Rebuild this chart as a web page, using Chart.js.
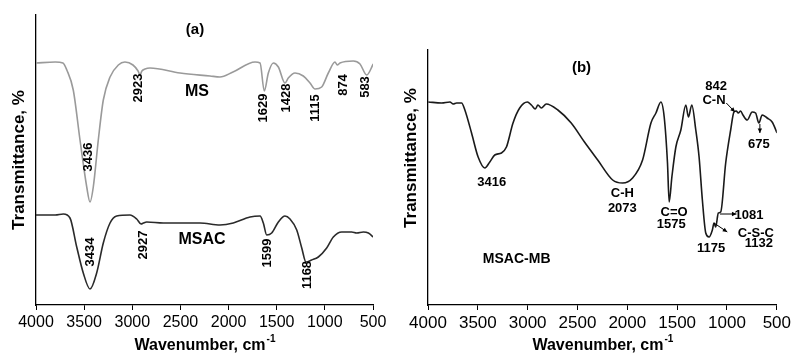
<!DOCTYPE html>
<html>
<head>
<meta charset="utf-8">
<script src="https://cdn.jsdelivr.net/npm/chart.js@4.4.0/dist/chart.umd.min.js"></script>
<style>
    body { margin: 0; background: #fff; }
    #wrap { position: relative; width: 794px; height: 355px; }
    #chartA { position: absolute; left: 0; top: 0; }
    #chartB { position: absolute; left: 395px; top: 0; }
</style>
</head>
<body>
<div id="wrap">
    <canvas id="chartA" width="395" height="355"></canvas>
    <canvas id="chartB" width="399" height="355"></canvas>
</div>
<script>
// Panel (a): MS spectrum (grey)
const msWave = [4000, 3800, 3720, 3680, 3613, 3543, 3473, 3439, 3405, 3353, 3301, 3231, 3145, 3076, 2993, 2940, 2920, 2900, 2868, 2816, 2504, 2193, 2089, 1954, 1725, 1673, 1629, 1587, 1535, 1483, 1414, 1380, 1310, 1224, 1154, 1102, 1033, 964, 895, 871, 843, 705, 635, 565, 497];
const msTrans = [242, 243, 242, 235, 215, 165, 118, 103, 118, 165, 205, 228, 240, 243, 240, 234, 230, 234, 236, 237, 232, 229, 228, 233, 243, 242, 214, 232, 242, 238, 222, 227, 232, 229, 222, 216, 218, 232, 243, 240, 242, 244, 241, 230, 241];

// Panel (a): MSAC spectrum (dark)
const msacWave = [4000, 3800, 3716, 3647, 3577, 3509, 3439, 3370, 3301, 3231, 3162, 3024, 2954, 2909, 2885, 2850, 2678, 2297, 2089, 1951, 1777, 1673, 1639, 1604, 1552, 1483, 1414, 1362, 1292, 1240, 1196, 1137, 1068, 981, 912, 825, 721, 669, 600, 548, 497];
const msacTrans = [90, 90, 91, 87, 58, 32, 16, 32, 62, 82, 89, 90, 86, 81, 82, 83, 82, 82, 80, 82, 88, 89, 82, 70, 72, 83, 89, 86, 75, 57, 43, 45, 48, 57, 68, 73, 73, 72, 73, 72, 68];

// Panel (b): MSAC-MB spectrum
const mbWave = [3997, 3863, 3780, 3747, 3713, 3663, 3630, 3563, 3497, 3430, 3380, 3330, 3263, 3213, 3147, 3080, 3003, 2963, 2923, 2897, 2863, 2813, 2697, 2563, 2430, 2297, 2147, 2047, 1947, 1847, 1763, 1713, 1663, 1630, 1597, 1580, 1553, 1513, 1463, 1413, 1387, 1353, 1313, 1280, 1247, 1213, 1180, 1147, 1130, 1113, 1087, 1063, 1013, 963, 930, 907, 887, 863, 840, 797, 747, 713, 680, 647, 597, 547, 497];
const mbTrans = [203, 202, 203, 201, 202, 202, 195, 172, 148, 137, 143, 150, 152, 158, 182, 197, 203, 200, 196, 200, 197, 201, 195, 182, 163, 145, 125, 122, 127, 145, 182, 192, 203, 188, 142, 103, 128, 158, 175, 200, 188, 200, 175, 148, 105, 72, 68, 75, 82, 78, 92, 93, 142, 175, 193, 194, 192, 194, 190, 185, 193, 192, 182, 190, 187, 183, 172];

// Axis ticks shared by both panels
const waveTicks = [4000, 3500, 3000, 2500, 2000, 1500, 1000, 500];

// Labels for panel (a): text, wavenumber, level, rotated?
const notesA = [
    ['(a)', 2349, 275, false, 15],
    ['MS', 2328, 213, false, 16],
    ['MSAC', 2276, 65, false, 16],
    ['3436', 3460, 148, true, 13],
    ['2923', 2941, 217, true, 13],
    ['1629', 1642, 197, true, 13],
    ['1428', 1403, 207, true, 13],
    ['1115', 1102, 197, true, 13],
    ['874', 812, 220, true, 13],
    ['583', 583, 218, true, 13],
    ['3434', 3439, 53, true, 13],
    ['2927', 2889, 60, true, 13],
    ['1599', 1601, 52, true, 13],
    ['1168', 1185, 30, true, 13]
];

// Labels for panel (b)
const notesB = [
    ['(b)', 2460, 237, false, 15],
    ['842', 1110, 219, false, 13],
    ['C-N', 1130, 205, false, 13],
    ['675', 680, 161, false, 13],
    ['3416', 3360, 123, false, 13],
    ['C-H', 2050, 112, false, 13],
    ['2073', 2050, 97, false, 13],
    ['C=O', 1530, 93, false, 13],
    ['1575', 1560, 81, false, 13],
    ['1175', 1160, 57, false, 13],
    ['1081', 780, 90, false, 13],
    ['C-S-C', 710, 72, false, 13],
    ['1132', 680, 62, false, 13],
    ['MSAC-MB', 3110, 46, false, 14]
];

// Arrows for panel (b): from [wave, level] to [wave, level]
const arrowsB = [
    [[1007, 202], [920, 193]],
    [[670, 181], [670, 172]],
    [[1070, 91], [905, 91]],
    [[1130, 82], [997, 73]]
];

function toPoints(xs, ys) {
    return xs.map((x, i) => ({ x: x, y: ys[i] }));
}

// Draw an arrow between two pixel points
function drawArrow(ctx, x1, y1, x2, y2) {
    const ang = Math.atan2(y2 - y1, x2 - x1);
    ctx.beginPath();
    ctx.moveTo(x1, y1);
    ctx.lineTo(x2, y2);
    ctx.stroke();
    ctx.beginPath();
    ctx.moveTo(x2, y2);
    ctx.lineTo(x2 - 5 * Math.cos(ang - 0.45), y2 - 5 * Math.sin(ang - 0.45));
    ctx.lineTo(x2 - 5 * Math.cos(ang + 0.45), y2 - 5 * Math.sin(ang + 0.45));
    ctx.closePath();
    ctx.fill();
}

// Plugin that writes peak labels, arrows and the axis titles
const notesPlugin = {
    id: 'notes',
    afterDraw(chart, args, opts) {
        const ctx = chart.ctx;
        const xs = chart.scales.x;
        const ys = chart.scales.y;
        const area = chart.chartArea;
        ctx.save();
        ctx.fillStyle = '#000';
        ctx.strokeStyle = '#000';
        ctx.lineWidth = 1;
        ctx.textAlign = 'center';
        ctx.textBaseline = 'middle';

        (opts.items || []).forEach(n => {
            const px = xs.getPixelForValue(n[1]);
            const py = ys.getPixelForValue(n[2]);
            ctx.font = 'bold ' + n[4] + 'px Arial, "Liberation Sans", sans-serif';
            if (n[3]) {
                ctx.save();
                ctx.translate(px, py);
                ctx.rotate(-Math.PI / 2);
                ctx.fillText(n[0], 0, 0);
                ctx.restore();
            } else {
                ctx.fillText(n[0], px, py);
            }
        });

        (opts.arrows || []).forEach(a => {
            drawArrow(ctx,
                xs.getPixelForValue(a[0][0]), ys.getPixelForValue(a[0][1]),
                xs.getPixelForValue(a[1][0]), ys.getPixelForValue(a[1][1]));
        });

        // y axis title
        ctx.save();
        ctx.font = 'bold 17px Arial, "Liberation Sans", sans-serif';
        ctx.translate(area.left - 17, opts.yTitleMid);
        ctx.rotate(-Math.PI / 2);
        ctx.fillText('Transmittance, %', 0, 0);
        ctx.restore();

        // x axis title with superscript
        const main = 'Wavenumber, cm';
        const sup = '-1';
        ctx.font = 'bold 16px Arial, "Liberation Sans", sans-serif';
        const w1 = ctx.measureText(main).width;
        ctx.font = 'bold 10px Arial, "Liberation Sans", sans-serif';
        const w2 = ctx.measureText(sup).width;
        const cx = (area.left + area.right) / 2 - (w1 + w2) / 2;
        const ty = area.bottom + 41;
        ctx.textAlign = 'left';
        ctx.font = 'bold 16px Arial, "Liberation Sans", sans-serif';
        ctx.fillText(main, cx, ty);
        ctx.font = 'bold 10px Arial, "Liberation Sans", sans-serif';
        ctx.fillText(sup, cx + w1 + 1, ty - 7);
        ctx.restore();
    }
};

function makeChart(id, datasets, yMax, yWidth, pad, tickSize, notes, arrows, yTitleMid) {
    return new Chart(document.getElementById(id), {
        type: 'line',
        data: { datasets: datasets },
        options: {
            responsive: false,
            animation: false,
            layout: { padding: pad },
            plugins: {
                legend: { display: false },
                tooltip: { enabled: false },
                notes: { items: notes, arrows: arrows, yTitleMid: yTitleMid }
            },
            elements: { point: { radius: 0 } },
            scales: {
                x: {
                    type: 'linear',
                    reverse: true,
                    min: 500,
                    max: 4000,
                    afterBuildTicks: s => { s.ticks = waveTicks.map(v => ({ value: v })); },
                    afterFit: s => { s.height = 50; },
                    ticks: {
                        color: '#000',
                        maxRotation: 0,
                        padding: 3,
                        font: { family: 'Arial, "Liberation Sans", sans-serif', size: tickSize },
                        callback: v => String(v)
                    },
                    grid: { drawOnChartArea: false, drawTicks: true, tickLength: 5, color: '#000' },
                    border: { color: '#000', width: 1.3 }
                },
                y: {
                    min: 0,
                    max: yMax,
                    afterFit: s => { s.width = yWidth; },
                    ticks: { display: false },
                    grid: { drawOnChartArea: false, drawTicks: false },
                    border: { color: '#000', width: 1.3 }
                }
            }
        },
        plugins: [notesPlugin]
    });
}

const lineStyle = { pointRadius: 0, borderWidth: 1.6, fill: false, cubicInterpolationMode: 'monotone' };

makeChart('chartA', [
    Object.assign({ data: toPoints(msWave, msTrans), borderColor: '#9a9a9a' }, lineStyle),
    Object.assign({ data: toPoints(msacWave, msacTrans), borderColor: '#2a2a2a' }, lineStyle)
], 290, 36, { top: 15, right: 22, left: 0, bottom: 0 }, 16, notesA, [], 160);

makeChart('chartB', [
    Object.assign({ data: toPoints(mbWave, mbTrans), borderColor: '#1a1a1a' }, lineStyle)
], 255, 33, { top: 50, right: 16, left: 0, bottom: 0 }, 17, notesB, arrowsB, 158);
</script>
</body>
</html>
